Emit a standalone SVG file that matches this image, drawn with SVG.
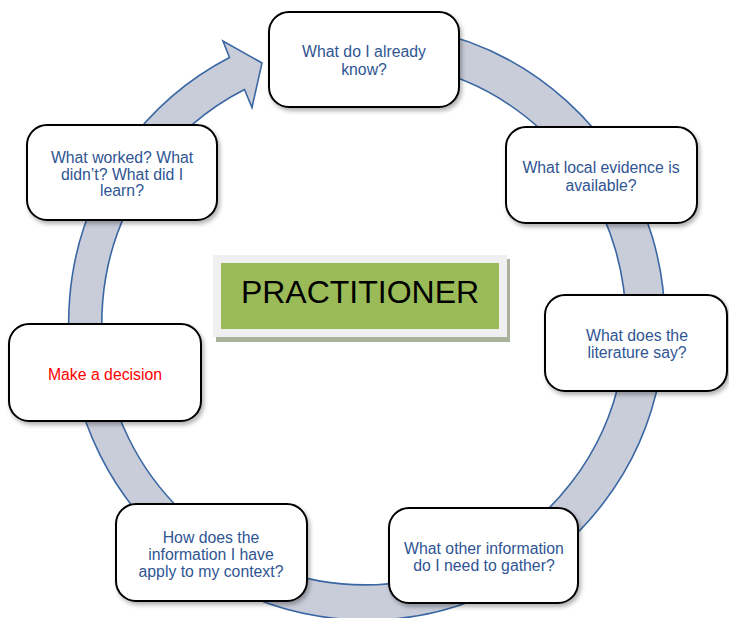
<svg xmlns="http://www.w3.org/2000/svg" width="729" height="618" viewBox="0 0 729 618">
  <style>
    .box { fill: #ffffff; stroke: #000000; stroke-width: 2; filter: url(#shadow); }
    .q { font-family: "Liberation Sans", Arial, sans-serif; font-size: 15.8px; fill: #2f5593; text-anchor: middle; }
    .red { fill: #ff0000; }
    .ring { fill: #c9cdd9; stroke: #3a67a3; stroke-width: 1.6; stroke-linejoin: miter; }
  </style>
  <defs>
    <filter id="shadow" x="-10%" y="-10%" width="125%" height="130%">
      <feDropShadow dx="2" dy="3" stdDeviation="2" flood-color="#000000" flood-opacity="0.3"/>
    </filter>
  </defs>

  <!-- circular cycle arrow, centre (363,323), outer r 298, inner r 262 -->
  <g id="connectors">
    <path class="ring" d="M 285.9 35.2 A 298 298 0 1 1 229.5 57.5 L 223 41 L 262 63 L 252 107.5 L 244.5 89.5 A 262 262 0 1 0 295.2 69.9 Z"/>
  </g>

  <!-- centre label -->
  <g id="practitioner">
    <rect x="216" y="259" width="294" height="83" fill="#aab29c"/>
    <rect x="213" y="255" width="294" height="82" fill="#f0f0f0"/>
    <rect x="221" y="263" width="278" height="66" fill="#9bbb59"/>
    <text x="360" y="303" font-family="'Liberation Sans', Arial, sans-serif" font-size="32" fill="#000000" text-anchor="middle">PRACTITIONER</text>
  </g>

  <g id="n1">
    <rect class="box" x="269" y="12" width="190" height="95" rx="20"/>
    <text class="q" x="364" y="57">What do I already</text>
    <text class="q" x="364" y="75">know?</text>
  </g>

  <g id="n2">
    <rect class="box" x="506" y="127" width="191" height="96" rx="20"/>
    <text class="q" x="601" y="173">What local evidence is</text>
    <text class="q" x="601" y="191">available?</text>
  </g>

  <g id="n3">
    <rect class="box" x="545" y="295" width="182" height="96" rx="20"/>
    <text class="q" x="637" y="341">What does the</text>
    <text class="q" x="637" y="358">literature say?</text>
  </g>

  <g id="n4">
    <rect class="box" x="389" y="508" width="189" height="95" rx="20"/>
    <text class="q" x="484" y="554">What other information</text>
    <text class="q" x="484" y="571">do I need to gather?</text>
  </g>

  <g id="n5">
    <rect class="box" x="116" y="504" width="191" height="97" rx="20"/>
    <text class="q" x="211" y="543">How does the</text>
    <text class="q" x="211" y="560">information I have</text>
    <text class="q" x="211" y="577">apply to my context?</text>
  </g>

  <g id="n6">
    <rect class="box" x="9" y="324" width="192" height="97" rx="20"/>
    <text class="q red" x="105" y="380">Make a decision</text>
  </g>

  <g id="n7">
    <rect class="box" x="27" y="125" width="190" height="95" rx="20"/>
    <text class="q" x="122" y="163">What worked? What</text>
    <text class="q" x="122" y="180">didn’t? What did I</text>
    <text class="q" x="122" y="196">learn?</text>
  </g>
</svg>
